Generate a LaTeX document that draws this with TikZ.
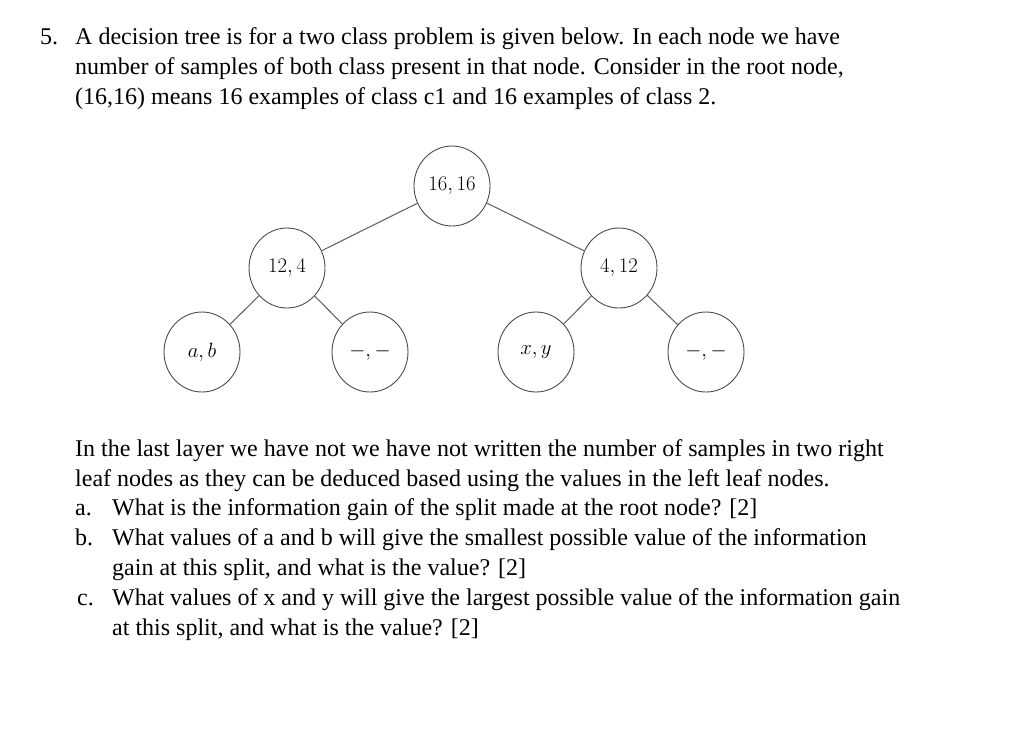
\documentclass[tikz,border=0pt]{standalone}
\usepackage{fontspec}
\setmainfont{Liberation Serif}
\newfontfamily\lmfont{Latin Modern Roman}
\usetikzlibrary{shapes.geometric}
\begin{document}
\begin{tikzpicture}[x=1pt,y=-1pt,
  tnode/.style={draw=black!70,line width=0.9pt,ellipse,minimum width=76pt,minimum height=80pt,inner sep=0pt,font=\lmfont\fontsize{20}{22}\selectfont},
  edge/.style={draw=black!60,line width=1.1pt},
  txt/.style={anchor=base west,inner sep=0pt,font=\fontsize{24}{28}\selectfont}]
\useasboundingbox (0,0) rectangle (1024,737);
\node[txt] (n5) at (40,44) {5.};
\node[txt] (l1) at (75,44) {A decision tree is for a two class problem is given below. In each node we have};
\node[txt] (l2) at (75,74) {number of samples of both class present in that node. Consider in the root node,};
\node[txt] (l3) at (75,104) {(16,16) means 16 examples of class c1 and 16 examples of class 2.};
\node[tnode] (r) at (452,186) {$16,16$};
\node[tnode] (L) at (287,268) {$12,4$};
\node[tnode] (R) at (619,268) {$4,12$};
\node[tnode] (LL) at (202,352) {$a,b$};
\node[tnode] (LR) at (370,352) {$-,-$};
\node[tnode] (RL) at (536,352) {$x,y$};
\node[tnode] (RR) at (706,352) {$-,-$};
\draw[edge] (r) -- (L); \draw[edge] (r) -- (R);
\draw[edge] (L) -- (LL); \draw[edge] (L) -- (LR);
\draw[edge] (R) -- (RL); \draw[edge] (R) -- (RR);
\node[txt] (b1) at (75,456) {In the last layer we have not we have not written the number of samples in two right};
\node[txt] (b2) at (75,486) {leaf nodes as they can be deduced based using the values in the left leaf nodes.};
\node[txt] (ba) at (75,515) {a.};
\node[txt] (bat) at (112,515) {What is the information gain of the split made at the root node? [2]};
\node[txt] (bb) at (75,545) {b.};
\node[txt] (bbt) at (112,545) {What values of a and b will give the smallest possible value of the information};
\node[txt] (bbt2) at (112,575) {gain at this split, and what is the value? [2]};
\node[txt] (bc) at (77,605) {c.};
\node[txt] (bct) at (112,605) {What values of x and y will give the largest possible value of the information gain};
\node[txt] (bct2) at (112,635) {at this split, and what is the value? [2]};
\end{tikzpicture}
\end{document}
